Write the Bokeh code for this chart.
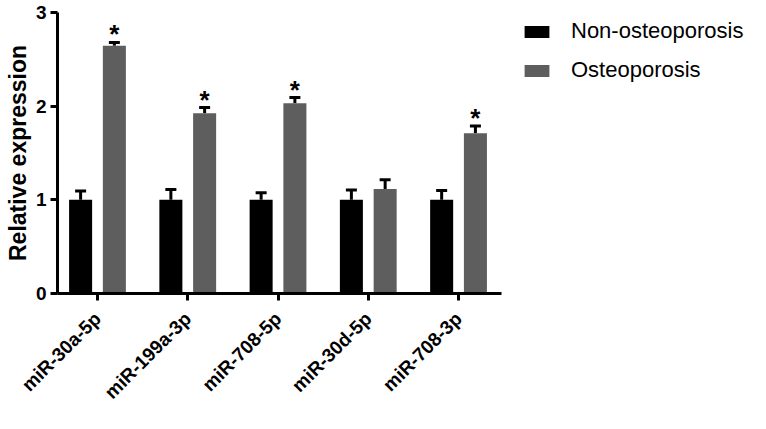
import math
from bokeh.plotting import figure
from bokeh.models import (ColumnDataSource, Whisker, TeeHead, FixedTicker, Legend,
                          LegendItem, Range1d)
from bokeh.core.properties import value
from bokeh.transform import dodge
from bokeh.embed import file_html
from bokeh.resources import INLINE

# ---- data ----
categories = ["miR-30a-5p", "miR-199a-3p", "miR-708-5p", "miR-30d-5p", "miR-708-3p"]
series_names = ["Non-osteoporosis", "Osteoporosis"]
non_mean = [1.0, 1.0, 1.0, 1.0, 1.0]
non_err = [0.095, 0.11, 0.075, 0.105, 0.10]
ost_mean = [2.645, 1.925, 2.03, 1.115, 1.71]
ost_err = [0.035, 0.06, 0.062, 0.10, 0.078]
significant = [True, True, True, False, True]

BLACK = "#000000"
GRAY = "#5e5e5e"
FONT = "Liberation Sans"
OFF = 0.187
BAR_W = 0.255

X_START, X_AXIS_END = -0.443, 4.476
LEFT, TOP, BOTTOM = 57, 12, 113
W, H = 750, 413
PX_PER_UNIT = 444 / (X_AXIS_END - X_START)
X_END = X_START + (W - LEFT) / PX_PER_UNIT

xs = list(range(len(categories)))
src = ColumnDataSource(dict(
    x=xs,
    non=non_mean,
    non_up=[m + e for m, e in zip(non_mean, non_err)],
    ost=ost_mean,
    ost_up=[m + e for m, e in zip(ost_mean, ost_err)],
))
star_src = ColumnDataSource(dict(
    x=[x for x, s in zip(xs, significant) if s],
    y=[m + e for m, e, s in zip(ost_mean, ost_err, significant) if s],
    t=["*" for s in significant if s],
))

p = figure(width=W, height=H,
           x_range=Range1d(X_START, X_END), y_range=Range1d(0, 3),
           output_backend="svg", toolbar_location=None,
           min_border_left=LEFT, min_border_right=0,
           min_border_top=TOP, min_border_bottom=BOTTOM)
p.outline_line_color = None
p.xgrid.visible = False
p.ygrid.visible = False
p.background_fill_color = "white"

r_non = p.vbar(x=dodge("x", -OFF, range=p.x_range), top="non", width=BAR_W,
               source=src, fill_color=BLACK, line_color=None)
r_ost = p.vbar(x=dodge("x", OFF, range=p.x_range), top="ost", width=BAR_W,
               source=src, fill_color=GRAY, line_color=None)

for off, lo, up in [(-OFF, "non", "non_up"), (OFF, "ost", "ost_up")]:
    w = Whisker(source=src, base=dodge("x", off, range=p.x_range), lower=lo, upper=up,
                line_width=3, line_color=BLACK,
                upper_head=TeeHead(size=11, line_width=3, line_color=BLACK),
                lower_head=None)
    p.add_layout(w)

p.text(x=dodge("x", OFF, range=p.x_range), y="y", text="t", source=star_src,
       text_font=value(FONT), text_font_style="bold", text_font_size="26px",
       text_align="center", text_baseline="alphabetic", y_offset=-8,
       text_color="black")

for ax in (p.xaxis[0], p.yaxis[0]):
    ax.axis_line_width = 3
    ax.axis_line_color = "black"
    ax.major_tick_line_width = 3
    ax.major_tick_line_color = "black"
    ax.major_tick_out = 7
    ax.major_tick_in = 0
    ax.minor_tick_out = 0
    ax.minor_tick_in = 0
    ax.major_label_text_font = FONT
    ax.major_label_text_font_style = "bold"
    ax.major_label_text_color = "black"

p.yaxis.ticker = FixedTicker(ticks=[0, 1, 2, 3])
p.yaxis.major_label_text_font_size = "19px"
p.yaxis.major_label_standoff = 4
p.yaxis.axis_label = "Relative expression"
p.yaxis.axis_label_text_font = FONT
p.yaxis.axis_label_text_font_style = "bold"
p.yaxis.axis_label_text_font_size = "23px"
p.yaxis.axis_label_text_color = "black"
p.yaxis.axis_label_standoff = 2

p.xaxis.bounds = (X_START, X_AXIS_END)
p.xaxis.ticker = FixedTicker(ticks=xs)
p.xaxis.major_label_overrides = {i: c for i, c in enumerate(categories)}
p.xaxis.major_label_orientation = math.pi / 4
p.xaxis.major_label_text_font_size = "19px"
p.xaxis.major_label_standoff = 15

legend = Legend(items=[LegendItem(label=series_names[0], renderers=[r_non]),
                       LegendItem(label=series_names[1], renderers=[r_ost])],
                location=(464, 210), glyph_width=31, glyph_height=15,
                label_height=26, label_standoff=19, spacing=13,
                padding=0, margin=0,
                border_line_color=None, background_fill_alpha=0,
                label_text_font=FONT, label_text_font_size="22px",
                label_text_color="black")
p.add_layout(legend)

open("out.html", "w").write(file_html(p, INLINE))
